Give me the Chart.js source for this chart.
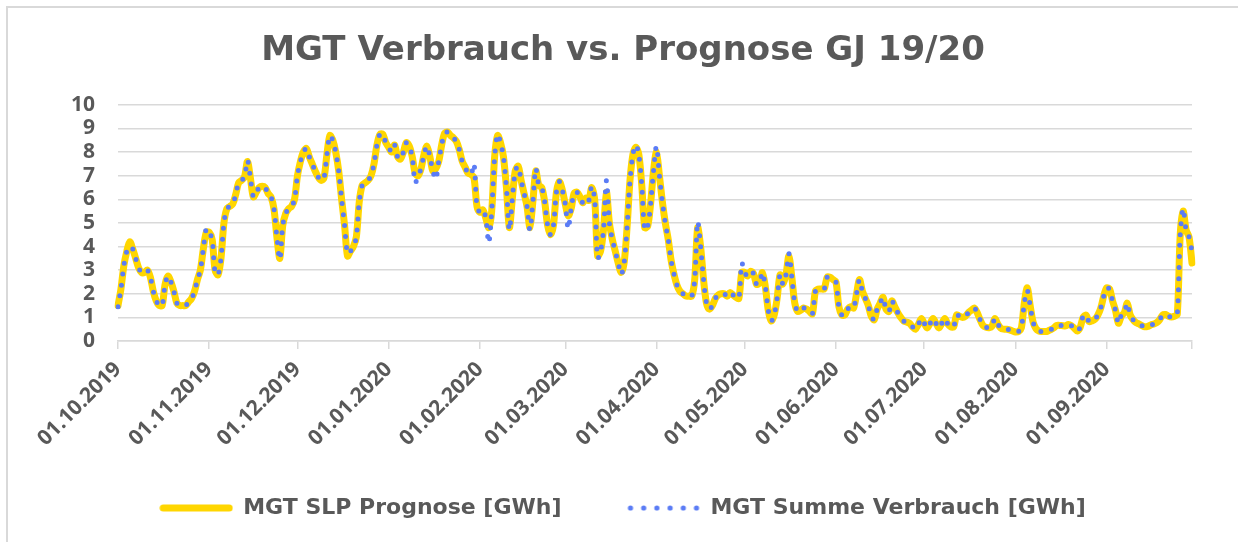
<!DOCTYPE html>
<html>
<head>
<meta charset="utf-8">
<script src="https://cdn.jsdelivr.net/npm/chart.js@4.4.1/dist/chart.umd.min.js"></script>
<style>
  html, body { margin: 0; padding: 0; background: #fff; }
  #wrap { position: relative; width: 1238px; height: 542px; }
  #frame { position: absolute; left: 6px; top: 6px; right: -10px; bottom: -10px; border-left: 2px solid #d9d9d9; border-top: 2px solid #d9d9d9; }
  canvas { position: absolute; left: 0; top: 0; }
</style>
</head>
<body>
<div id="wrap">
  <div id="frame"></div>
  <canvas id="mgtChart" width="1238" height="542"></canvas>
</div>
<script>
// daily categories 01.10.2019 - 30.09.2020
const dates = [];
const start = Date.UTC(2019, 9, 1);
for (let i = 0; i < 366; i++) {
  const d = new Date(start + i * 86400000);
  dates.push(String(d.getUTCDate()).padStart(2, '0') + '.' +
    String(d.getUTCMonth() + 1).padStart(2, '0') + '.' + d.getUTCFullYear());
}

const monthTicks = ['01.10.2019', '01.11.2019', '01.12.2019', '01.01.2020', '01.02.2020', '01.03.2020',
  '01.04.2020', '01.05.2020', '01.06.2020', '01.07.2020', '01.08.2020', '01.09.2020'];

// MGT SLP Prognose [GWh]
const prognose = [
  1.5, 2.2, 3.2, 3.8, 4.2, 3.9, 3.5, 3.1, 2.9, 2.9,
  3.0, 2.7, 2.1, 1.7, 1.5, 1.5, 2.4, 2.75, 2.5, 2.1,
  1.6, 1.5, 1.5, 1.5, 1.65, 1.8, 2.1, 2.6, 3.0, 3.9,
  4.6, 4.6, 4.3, 3.0, 2.8, 3.5, 5.0, 5.6, 5.7, 5.8,
  6.2, 6.7, 6.8, 6.95, 7.6, 6.9, 6.1, 6.3, 6.5, 6.55,
  6.5, 6.25, 6.1, 5.6, 4.4, 3.5, 4.9, 5.4, 5.6, 5.7,
  6.0, 7.0, 7.6, 8.0, 8.15, 7.8, 7.5, 7.2, 6.95, 6.8,
  6.9, 7.9, 8.7, 8.5, 8.0, 7.2, 6.0, 4.9, 3.6, 3.8,
  4.0, 4.4, 5.9, 6.6, 6.7, 6.8, 7.0, 7.5, 8.3, 8.75,
  8.75, 8.4, 8.2, 8.0, 8.3, 7.8, 7.7, 8.0, 8.4, 8.25,
  7.8, 7.1, 7.0, 7.3, 7.9, 8.25, 7.8, 7.2, 7.3, 7.6,
  8.3, 8.8, 8.85, 8.7, 8.6, 8.45, 8.1, 7.6, 7.35, 7.1,
  7.05, 6.9, 5.7, 5.45, 5.55, 5.2, 4.8, 5.5, 7.8, 8.7,
  8.4, 7.8, 6.5, 4.8, 6.0, 7.2, 7.4, 6.8, 6.25, 5.7,
  4.8, 5.9, 7.2, 6.6, 6.5, 5.9, 4.9, 4.5, 4.9, 6.3,
  6.75, 6.4, 5.8, 5.3, 5.6, 6.25, 6.3, 6.1, 5.85, 6.05,
  5.95, 6.5, 6.0, 3.6, 3.8, 4.7, 6.3, 5.0, 4.3, 3.8,
  3.3, 2.9, 3.3, 4.8, 6.8, 7.9, 8.2, 7.9, 6.6, 4.8,
  4.85, 5.8, 7.2, 8.0, 7.0, 5.9, 5.0, 4.3, 3.4, 2.8,
  2.35, 2.1, 2.0, 1.9, 1.9, 1.9, 2.6, 4.8, 4.0, 2.6,
  1.6, 1.35, 1.5, 1.8, 1.95, 2.0, 2.0, 1.9, 2.05, 1.95,
  1.85, 1.8, 2.9, 2.9, 2.75, 2.95, 2.85, 2.4, 2.45, 2.9,
  2.3, 1.3, 0.85, 1.1, 1.8, 2.8, 2.4, 2.8, 3.6, 2.7,
  1.6, 1.25, 1.3, 1.4, 1.35, 1.25, 1.15, 2.1, 2.2, 2.2,
  2.2, 2.7, 2.7, 2.6, 2.5, 1.45, 1.1, 1.1, 1.35, 1.45,
  1.4, 2.0, 2.6, 2.1, 1.8, 1.5, 1.05, 0.9, 1.35, 1.6,
  1.85, 1.35, 1.25, 1.7, 1.45, 1.2, 1.0, 0.85, 0.8, 0.75,
  0.6, 0.5, 0.7, 0.95, 0.75, 0.55, 0.75, 0.95, 0.75, 0.55,
  0.75, 0.95, 0.72, 0.6, 0.6, 1.1, 1.05, 1.0, 1.05, 1.2,
  1.3, 1.4, 1.2, 0.9, 0.65, 0.58, 0.56, 0.62, 0.95, 0.72,
  0.55, 0.5, 0.5, 0.47, 0.42, 0.38, 0.4, 0.55, 1.6, 2.25,
  1.5, 0.8, 0.52, 0.42, 0.4, 0.4, 0.42, 0.48, 0.55, 0.66,
  0.66, 0.65, 0.64, 0.7, 0.65, 0.54, 0.42, 0.58, 1.0, 1.1,
  0.82, 0.85, 0.92, 1.1, 1.4, 1.9, 2.25, 2.2, 1.7, 1.3,
  0.75, 1.05, 1.2, 1.6, 1.1, 0.9, 0.78, 0.72, 0.65, 0.6,
  0.62, 0.68, 0.72, 0.78, 0.9, 1.1, 1.12, 1.05, 1.02, 1.05,
  1.13, 4.5, 5.5, 4.7, 4.4, 3.3
];

// MGT Summe Verbrauch [GWh]
const verbrauch = [
  1.45, 2.2, 3.2, 3.8, 4.0, 3.9, 3.5, 3.1, 2.9, 2.9,
  3.0, 2.7, 2.1, 1.7, 1.5, 1.5, 2.4, 2.75, 2.5, 2.1,
  1.6, 1.5, 1.5, 1.5, 1.65, 1.8, 2.1, 2.6, 3.0, 3.9,
  4.75, 4.6, 4.3, 2.9, 2.8, 3.5, 5.0, 5.6, 5.7, 5.8,
  6.2, 6.7, 6.8, 6.95, 7.65, 6.9, 6.1, 6.3, 6.5, 6.55,
  6.5, 6.25, 6.1, 5.6, 4.4, 3.45, 4.9, 5.4, 5.6, 5.7,
  6.0, 7.0, 7.6, 8.0, 8.15, 7.8, 7.5, 7.2, 6.95, 6.8,
  6.9, 7.9, 8.7, 8.5, 8.0, 7.2, 6.0, 4.9, 3.7, 3.8,
  4.0, 4.4, 5.9, 6.6, 6.7, 6.8, 7.0, 7.5, 8.3, 8.75,
  8.75, 8.4, 8.2, 8.0, 8.3, 7.8, 7.7, 8.0, 8.4, 8.25,
  7.8, 6.7, 7.0, 7.3, 7.9, 8.25, 7.8, 7.2, 6.85, 7.6,
  8.3, 8.8, 8.85, 8.7, 8.6, 8.45, 8.1, 7.6, 7.35, 7.1,
  7.05, 7.5, 5.7, 5.45, 5.55, 5.2, 4.15, 5.5, 7.8, 8.75,
  8.4, 7.8, 6.5, 4.7, 6.0, 7.2, 7.4, 6.8, 6.25, 5.7,
  4.7, 5.9, 7.3, 6.6, 6.5, 5.9, 4.9, 4.5, 4.9, 6.3,
  6.75, 6.4, 5.8, 4.75, 5.6, 6.25, 6.3, 6.1, 5.85, 6.05,
  5.95, 6.55, 6.0, 3.5, 3.8, 4.7, 6.8, 5.0, 4.3, 3.8,
  3.3, 2.82, 3.3, 4.8, 6.8, 7.9, 8.3, 7.9, 6.6, 4.7,
  4.85, 5.8, 7.2, 8.25, 7.0, 5.9, 5.0, 4.3, 3.4, 2.8,
  2.35, 2.1, 2.0, 1.9, 1.9, 1.9, 2.6, 5.05, 4.0, 2.6,
  1.6, 1.35, 1.5, 1.8, 1.95, 2.0, 2.0, 1.9, 2.05, 1.95,
  1.85, 1.8, 3.3, 2.9, 2.75, 2.95, 2.85, 2.4, 2.45, 2.9,
  2.3, 1.3, 0.85, 1.1, 1.8, 2.8, 2.4, 2.8, 3.7, 2.7,
  1.6, 1.25, 1.3, 1.4, 1.35, 1.25, 1.15, 2.1, 2.2, 2.2,
  2.2, 2.7, 2.7, 2.6, 2.5, 1.45, 1.1, 1.1, 1.35, 1.45,
  1.4, 2.0, 2.6, 2.1, 1.8, 1.5, 1.05, 0.9, 1.35, 1.6,
  1.85, 1.35, 1.25, 1.7, 1.45, 1.2, 1.0, 0.85, 0.8, 0.75,
  0.6, 0.5, 0.7, 0.95, 0.75, 0.55, 0.75, 0.95, 0.75, 0.55,
  0.75, 0.95, 0.72, 0.6, 0.6, 1.1, 1.05, 1.0, 1.05, 1.2,
  1.3, 1.4, 1.2, 0.9, 0.65, 0.58, 0.56, 0.62, 0.95, 0.72,
  0.55, 0.5, 0.5, 0.47, 0.42, 0.38, 0.4, 0.55, 1.6, 2.15,
  1.5, 0.8, 0.52, 0.42, 0.4, 0.4, 0.42, 0.48, 0.55, 0.66,
  0.66, 0.65, 0.64, 0.7, 0.65, 0.54, 0.42, 0.58, 1.05, 1.1,
  0.82, 0.85, 0.92, 1.1, 1.4, 1.9, 2.25, 2.2, 1.7, 1.3,
  0.75, 1.1, 1.2, 1.6, 1.1, 0.9, 0.78, 0.72, 0.65, 0.6,
  0.62, 0.68, 0.72, 0.78, 0.9, 1.1, 1.12, 1.05, 1.02, 1.05,
  1.13, 4.5, 5.6, 4.7, 4.4, 3.8
];

const textColor = '#595959';
const gridColor = '#d9d9d9';
const yellow = '#ffd600';
const blue = '#5b7cf5';

// little legend samples (solid yellow line, blue dots)
function legendSample(draw) {
  const c = document.createElement('canvas');
  c.width = 74;
  c.height = 10;
  draw(c.getContext('2d'));
  return c;
}
const yellowSample = legendSample(g => {
  g.strokeStyle = yellow;
  g.lineWidth = 7;
  g.lineCap = 'round';
  g.beginPath();
  g.moveTo(4, 5);
  g.lineTo(70, 5);
  g.stroke();
});
const blueSample = legendSample(g => {
  g.fillStyle = blue;
  for (let i = 0; i < 6; i++) {
    g.beginPath();
    g.arc(4 + i * 13.2, 5, 2.6, 0, Math.PI * 2);
    g.fill();
  }
});

const ctx = document.getElementById('mgtChart').getContext('2d');

const mgtChart = new Chart(ctx, {
  type: 'line',
  data: {
    labels: dates,
    datasets: [{
      label: 'MGT SLP Prognose [GWh]',
      data: prognose,
      borderColor: yellow,
      backgroundColor: yellow,
      borderWidth: 7,
      borderCapStyle: 'round',
      borderJoinStyle: 'round',
      pointRadius: 0,
      pointStyle: yellowSample,
      tension: 0.3,
      order: 1
    }, {
      label: 'MGT Summe Verbrauch [GWh]',
      data: verbrauch,
      borderColor: blue,
      backgroundColor: blue,
      borderWidth: 5,
      borderDash: [0, 11],
      borderCapStyle: 'round',
      pointRadius: 0,
      pointStyle: blueSample,
      tension: 0.3,
      order: 0
    }]
  },
  options: {
    responsive: false,
    animation: false,
    layout: {
      padding: { left: 54, right: 46, top: 0, bottom: 13 }
    },
    plugins: {
      title: {
        display: true,
        text: 'MGT Verbrauch vs. Prognose GJ 19/20',
        color: textColor,
        font: { family: 'DejaVu Sans', size: 34, weight: 'bold' },
        padding: { top: 31, bottom: 33 }
      },
      legend: {
        position: 'bottom',
        labels: {
          color: textColor,
          font: { family: 'DejaVu Sans', size: 22, weight: 'bold' },
          usePointStyle: true,
          pointStyleWidth: 72,
          padding: 22,
          sort: (a, b) => a.datasetIndex - b.datasetIndex,
          generateLabels: (chart) => {
            const items = Chart.defaults.plugins.legend.labels.generateLabels(chart);
            // wider gap after the first entry, like the original legend
            items.forEach(it => { if (it.datasetIndex === 0) it.text += '\u2003\u2003'; });
            return items;
          }
        }
      },
      tooltip: { enabled: false }
    },
    scales: {
      x: {
        offset: false,
        afterFit: (scale) => { scale.height = 134; },
        grid: {
          drawOnChartArea: false,
          drawTicks: true,
          tickLength: 8,
          color: gridColor,
          lineWidth: 1.5
        },
        border: { display: true, color: gridColor, width: 1.5 },
        ticks: {
          autoSkip: false,
          minRotation: 45,
          maxRotation: 45,
          padding: 8,
          color: textColor,
          font: { family: 'Open Sans', size: 21, weight: 'bold' },
          callback: function (value, index) {
            const l = dates[index];
            if (monthTicks.includes(l)) return l;
            if (index === dates.length - 1) return '';
            return null;
          }
        }
      },
      y: {
        min: 0,
        max: 10,
        afterFit: (scale) => { scale.width = 64; },
        grid: { color: gridColor, lineWidth: 1.5, drawTicks: false },
        border: { display: false },
        ticks: {
          stepSize: 1,
          autoSkip: false,
          padding: 23,
          color: textColor,
          font: { family: 'Open Sans', size: 21, weight: 'bold' }
        }
      }
    }
  }
});
</script>
</body>
</html>
